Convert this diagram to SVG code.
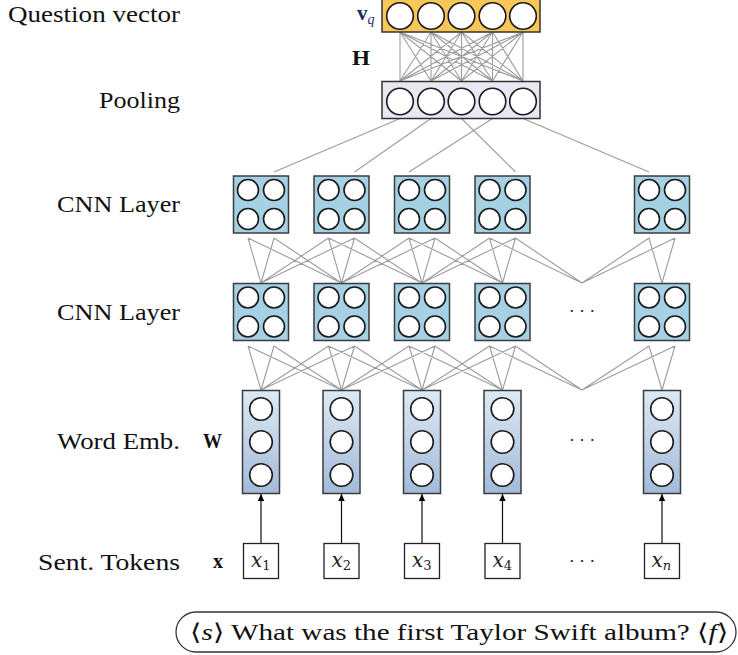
<svg xmlns="http://www.w3.org/2000/svg" width="738" height="655" viewBox="0 0 738 655">
<style>
.lbl{font-family:"Liberation Serif","Times New Roman",serif;font-size:23.5px;fill:#111}
.snt{font-family:"Liberation Serif","Times New Roman",serif;font-size:23px;fill:#111}
.math{font-family:"Liberation Serif","DejaVu Serif",serif;font-weight:bold;fill:#111}
.tok{font-family:"DejaVu Serif","Liberation Serif",serif;font-style:italic;font-size:20px;fill:#222}
.sub{font-size:13px;font-style:normal}
.conn{stroke:#9c9c9c;stroke-width:1.1;fill:none}
.cir{fill:#fff;stroke:#1a1a1a;stroke-width:1.6}
.cnn{fill:#A6D0E4;stroke:#3c3c3c;stroke-width:1.5}
.emb{fill:url(#embg);stroke:#3c3c3c;stroke-width:1.5}
.tb{fill:#fff;stroke:#222;stroke-width:1.3}
.arr{stroke:#111;stroke-width:1.2;fill:none}
.dots{font-family:"DejaVu Serif","Liberation Serif",serif;font-size:16px;fill:#222}
</style>
<defs>
<linearGradient id="embg" x1="0" y1="0" x2="0" y2="1">
<stop offset="0" stop-color="#DCEAF4"/>
<stop offset="1" stop-color="#A2B9D9"/>
</linearGradient>
<marker id="ah" markerWidth="8" markerHeight="8" refX="7" refY="4" orient="auto" markerUnits="userSpaceOnUse">
<path d="M0,0.8 L7,4 L0,7.2 z" fill="#000"/>
</marker>
<g id="c4">
<rect class="cnn" x="-27.5" y="0" width="55" height="57"/>
<circle class="cir" cx="-13" cy="14" r="10.5"/>
<circle class="cir" cx="13" cy="14" r="10.5"/>
<circle class="cir" cx="-13" cy="43" r="10.5"/>
<circle class="cir" cx="13" cy="43" r="10.5"/>
</g>
<g id="e3">
<rect class="emb" x="-18.5" y="0" width="37" height="103"/>
<circle class="cir" cx="0" cy="18.5" r="11.3"/>
<circle class="cir" cx="0" cy="51.5" r="11.3"/>
<circle class="cir" cx="0" cy="84.5" r="11.3"/>
</g>
</defs>

<g id="labels">
<text class="lbl" x="8" y="22" textLength="172" lengthAdjust="spacingAndGlyphs">Question vector</text>
<text class="lbl" x="180" y="108" text-anchor="end" textLength="81" lengthAdjust="spacingAndGlyphs">Pooling</text>
<text class="lbl" x="180" y="212" text-anchor="end" textLength="123" lengthAdjust="spacingAndGlyphs">CNN Layer</text>
<text class="lbl" x="180" y="320" text-anchor="end" textLength="123" lengthAdjust="spacingAndGlyphs">CNN Layer</text>
<text class="lbl" x="180" y="449" text-anchor="end" textLength="123" lengthAdjust="spacingAndGlyphs">Word Emb.</text>
<text class="lbl" x="180" y="570" text-anchor="end" textLength="142" lengthAdjust="spacingAndGlyphs">Sent.  Tokens</text>
<text class="math" x="357" y="20" font-size="21" style="fill:#1b2a63">v<tspan font-size="14" font-style="italic" font-weight="normal" dy="4">q</tspan></text>
<text class="math" x="352" y="65" font-size="22" textLength="18" lengthAdjust="spacingAndGlyphs">H</text>
<text class="math" x="203" y="448" font-size="22" textLength="19" lengthAdjust="spacingAndGlyphs">W</text>
<text class="math" x="213" y="568" font-size="21" textLength="10" lengthAdjust="spacingAndGlyphs">x</text>
</g>

<g id="connectors">
<path class="conn" d="M400,32 L400,81 M400,32 L431,81 M400,32 L461.5,81 M400,32 L492.5,81 M400,32 L523,81
M431,32 L400,81 M431,32 L431,81 M431,32 L461.5,81 M431,32 L492.5,81 M431,32 L523,81
M461.5,32 L400,81 M461.5,32 L431,81 M461.5,32 L461.5,81 M461.5,32 L492.5,81 M461.5,32 L523,81
M492.5,32 L400,81 M492.5,32 L431,81 M492.5,32 L461.5,81 M492.5,32 L492.5,81 M492.5,32 L523,81
M523,32 L400,81 M523,32 L431,81 M523,32 L461.5,81 M523,32 L492.5,81 M523,32 L523,81"/>
<path class="conn" d="M400,118.5 L274,172 M431,118.5 L354.5,172 M492.5,118.5 L409,172 M461.5,118.5 L515.5,172 M523,118.5 L649,172"/>
<path class="conn" d="M261,283 L248,238 M261,283 L274,238 M261,283 L328.5,238 M261,283 L354.5,238
M341.5,283 L248,238 M341.5,283 L274,238 M341.5,283 L328.5,238 M341.5,283 L354.5,238 M341.5,283 L409,238 M341.5,283 L435,238
M422,283 L328.5,238 M422,283 L354.5,238 M422,283 L409,238 M422,283 L435,238 M422,283 L489.5,238 M422,283 L515.5,238
M502.5,283 L409,238 M502.5,283 L435,238 M502.5,283 L489.5,238 M502.5,283 L515.5,238
M582,283 L489.5,238 M582,283 L515.5,238 M582,283 L649,238 M582,283 L675,238
M662,283 L649,238 M662,283 L675,238"/>
<path class="conn" d="M261,390 L248,346 M261,390 L274,346 M261,390 L328.5,346 M261,390 L354.5,346
M341.5,390 L248,346 M341.5,390 L274,346 M341.5,390 L328.5,346 M341.5,390 L354.5,346 M341.5,390 L409,346 M341.5,390 L435,346
M422,390 L328.5,346 M422,390 L354.5,346 M422,390 L409,346 M422,390 L435,346 M422,390 L489.5,346 M422,390 L515.5,346
M502.5,390 L409,346 M502.5,390 L435,346 M502.5,390 L489.5,346 M502.5,390 L515.5,346
M582,390 L489.5,346 M582,390 L515.5,346 M582,390 L649,346 M582,390 L675,346
M662,390 L649,346 M662,390 L675,346"/>
<line class="arr" x1="261" y1="543.5" x2="261" y2="494" marker-end="url(#ah)"/>
<line class="arr" x1="341.5" y1="543.5" x2="341.5" y2="494" marker-end="url(#ah)"/>
<line class="arr" x1="422" y1="543.5" x2="422" y2="494" marker-end="url(#ah)"/>
<line class="arr" x1="502.5" y1="543.5" x2="502.5" y2="494" marker-end="url(#ah)"/>
<line class="arr" x1="662" y1="543.5" x2="662" y2="494" marker-end="url(#ah)"/>
</g>

<g id="question-vector">
<rect x="382" y="-5" width="158" height="37" fill="#F9C758" stroke="#333" stroke-width="1.5"/>
<circle class="cir" cx="400" cy="16" r="13.3"/>
<circle class="cir" cx="431" cy="16" r="13.3"/>
<circle class="cir" cx="461.5" cy="16" r="13.3"/>
<circle class="cir" cx="492.5" cy="16" r="13.3"/>
<circle class="cir" cx="523" cy="16" r="13.3"/>
</g>
<g id="pooling">
<rect x="382" y="81.5" width="158" height="37" fill="#EAE6F2" stroke="#333" stroke-width="1.5"/>
<circle class="cir" cx="400" cy="101.5" r="13.3"/>
<circle class="cir" cx="431" cy="101.5" r="13.3"/>
<circle class="cir" cx="461.5" cy="101.5" r="13.3"/>
<circle class="cir" cx="492.5" cy="101.5" r="13.3"/>
<circle class="cir" cx="523" cy="101.5" r="13.3"/>
</g>

<g id="cnn1-1"><use href="#c4" x="261" y="176"/></g>
<g id="cnn1-2"><use href="#c4" x="341.5" y="176"/></g>
<g id="cnn1-3"><use href="#c4" x="422" y="176"/></g>
<g id="cnn1-4"><use href="#c4" x="502.5" y="176"/></g>
<g id="cnn1-n"><use href="#c4" x="662" y="176"/></g>

<g id="cnn2-1"><use href="#c4" x="261" y="283.5"/></g>
<g id="cnn2-2"><use href="#c4" x="341.5" y="283.5"/></g>
<g id="cnn2-3"><use href="#c4" x="422" y="283.5"/></g>
<g id="cnn2-4"><use href="#c4" x="502.5" y="283.5"/></g>
<g id="cnn2-dots"><text class="dots" x="582" y="317" text-anchor="middle">· · ·</text></g>
<g id="cnn2-n"><use href="#c4" x="662" y="283.5"/></g>

<g id="emb-1"><use href="#e3" x="261" y="390.5"/></g>
<g id="emb-2"><use href="#e3" x="341.5" y="390.5"/></g>
<g id="emb-3"><use href="#e3" x="422" y="390.5"/></g>
<g id="emb-4"><use href="#e3" x="502.5" y="390.5"/></g>
<g id="emb-dots"><text class="dots" x="582" y="446" text-anchor="middle">· · ·</text></g>
<g id="emb-n"><use href="#e3" x="662" y="390.5"/></g>

<g id="tok-1"><rect class="tb" x="243.5" y="543.5" width="35" height="35"/><text class="tok" x="251" y="567">x<tspan class="sub" dy="2.5">1</tspan></text></g>
<g id="tok-2"><rect class="tb" x="324" y="543.5" width="35" height="35"/><text class="tok" x="331.5" y="567">x<tspan class="sub" dy="2.5">2</tspan></text></g>
<g id="tok-3"><rect class="tb" x="404.5" y="543.5" width="35" height="35"/><text class="tok" x="412" y="567">x<tspan class="sub" dy="2.5">3</tspan></text></g>
<g id="tok-4"><rect class="tb" x="485" y="543.5" width="35" height="35"/><text class="tok" x="492.5" y="567">x<tspan class="sub" dy="2.5">4</tspan></text></g>
<g id="tok-dots"><text class="dots" x="582" y="567" text-anchor="middle">· · ·</text></g>
<g id="tok-n"><rect class="tb" x="644.5" y="543.5" width="35" height="35"/><text class="tok" x="651.5" y="567">x<tspan class="sub" style="font-style:italic" dy="2.5">n</tspan></text></g>

<g id="sentence">
<rect x="176" y="612" width="560" height="40" rx="20" ry="20" fill="#fff" stroke="#333" stroke-width="1.3"/>
<text class="snt" x="190" y="640" textLength="538" lengthAdjust="spacingAndGlyphs">⟨<tspan font-style="italic">s</tspan>⟩ What was the first Taylor Swift album? ⟨<tspan font-style="italic">f</tspan>⟩</text>
</g>
</svg>
